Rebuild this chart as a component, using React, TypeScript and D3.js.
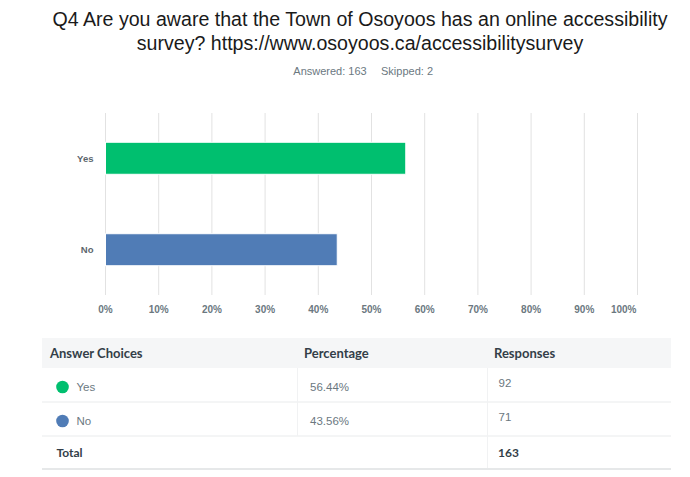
import React from "react";
import * as d3 from "d3";

const categories = ["Yes", "No"];
const percentages = [56.44, 43.56];
const responses = [92, 71];
const colors = ["#00bf6f", "#507cb6"];
const tickValues = [0, 10, 20, 30, 40, 50, 60, 70, 80, 90, 100];
const titleLines = [
  "Q4 Are you aware that the Town of Osoyoos has an online accessibility",
  "survey? https://www.osoyoos.ca/accessibilitysurvey",
];
const answered = 163;
const skipped = 2;
const totalResponses = 163;

const W = 690;
const H = 477;

export default function App() {
  const x = d3.scaleLinear().domain([0, 100]).range([105.5, 637.5]);
  const y = d3
    .scaleBand<string>()
    .domain(categories)
    .range([113, 295])
    .paddingInner(0.65)
    .paddingOuter(0.32);

  const gridTop = 113;
  const gridBottom = 295;
  const sans = "'Liberation Sans', Arial, sans-serif";
  const tableFont = "Lato, 'Open Sans', sans-serif";

  const headerTop = 338;
  const rowH = 34;
  const col1 = 42;
  const col2 = 297.5;
  const col3 = 487.5;
  const tableRight = 671;

  return (
    <svg
      width={W}
      height={H}
      style={{ position: "absolute", left: 0, top: 0, background: "#fff" }}
    >
      {/* Title */}
      {titleLines.map((t, i) => (
        <text
          key={i}
          x={360}
          y={26 + i * 23.5}
          textAnchor="middle"
          fontFamily={sans}
          fontSize={19.6}
          fill="#1a1a1a"
        >
          {t}
        </text>
      ))}
      <text
        x={330}
        y={75}
        textAnchor="middle"
        fontFamily={sans}
        fontSize={11}
        fill="#6b787f"
      >
        Answered: {answered}
      </text>
      <text
        x={407}
        y={75}
        textAnchor="middle"
        fontFamily={sans}
        fontSize={11}
        fill="#6b787f"
      >
        Skipped: {skipped}
      </text>

      {/* Gridlines */}
      {tickValues.map((t) => (
        <line
          key={t}
          x1={x(t)}
          x2={x(t)}
          y1={gridTop}
          y2={gridBottom}
          stroke="#e2e2e2"
          strokeWidth={1}
        />
      ))}

      {/* Bars */}
      {categories.map((c, i) => (
        <rect
          key={c}
          x={x(0)}
          y={y(c)!}
          width={x(percentages[i]) - x(0)}
          height={y.bandwidth()}
          fill={colors[i]}
          stroke="#fff"
          strokeWidth={1}
        />
      ))}

      {/* Category labels */}
      {categories.map((c) => (
        <text
          key={c}
          x={93.5}
          y={y(c)! + y.bandwidth() / 2}
          dy="0.35em"
          textAnchor="end"
          fontFamily={sans}
          fontSize={9.5}
          fontWeight="bold"
          fill="#5c666d"
        >
          {c}
        </text>
      ))}

      {/* Tick labels */}
      {tickValues.map((t, i) => (
        <text
          key={t}
          x={i === tickValues.length - 1 ? x(t) - 1 : x(t)}
          y={309}
          dy="0.35em"
          textAnchor={i === tickValues.length - 1 ? "end" : "middle"}
          fontFamily={sans}
          fontSize={10}
          fontWeight="bold"
          fill="#6b787f"
        >
          {t}%
        </text>
      ))}

      {/* Table header */}
      <rect
        x={col1}
        y={headerTop}
        width={tableRight - col1}
        height={30}
        fill="#f5f6f7"
      />
      {["Answer Choices", "Percentage", "Responses"].map((h, i) => (
        <text
          key={h}
          x={[50, 304, 494][i]}
          y={353.5}
          dy="0.35em"
          fontFamily={tableFont}
          fontSize={13}
          fontWeight="bold"
          fill="#333e48"
        >
          {h}
        </text>
      ))}

      {/* Rows */}
      {categories.map((c, i) => {
        const top = headerTop + 30 + i * rowH;
        return (
          <g key={c}>
            <line
              x1={col1}
              x2={tableRight}
              y1={top + rowH}
              y2={top + rowH}
              stroke="#e9ebec"
            />
            <circle cx={62.5} cy={top + 19} r={6.3} fill={colors[i]} />
            <text
              x={76.5}
              y={top + 19}
              dy="0.35em"
              fontFamily={sans}
              fontSize={11.5}
              fill="#6b787f"
            >
              {c}
            </text>
            <text
              x={310}
              y={top + 19}
              dy="0.35em"
              fontFamily={sans}
              fontSize={11.5}
              fill="#6b787f"
            >
              {percentages[i].toFixed(2)}%
            </text>
            <text
              x={498.5}
              y={top + 15}
              dy="0.35em"
              fontFamily={sans}
              fontSize={11.5}
              fill="#6b787f"
            >
              {responses[i]}
            </text>
          </g>
        );
      })}
      {/* column separators */}
      <line
        x1={col2}
        x2={col2}
        y1={headerTop + 30}
        y2={headerTop + 30 + 2 * rowH}
        stroke="#f1f2f3"
      />
      <line
        x1={col3}
        x2={col3}
        y1={headerTop + 30}
        y2={469}
        stroke="#f1f2f3"
      />

      {/* Total row */}
      <text
        x={56.5}
        y={453}
        dy="0.35em"
        fontFamily={tableFont}
        fontSize={12}
        fontWeight="bold"
        fill="#333e48"
      >
        Total
      </text>
      <text
        x={498}
        y={453}
        dy="0.35em"
        fontFamily={tableFont}
        fontSize={12}
        fontWeight="bold"
        fill="#333e48"
      >
        {totalResponses}
      </text>
      <line x1={col1} x2={tableRight} y1={469} y2={469} stroke="#e6e8e9" strokeWidth={2} />
    </svg>
  );
}
